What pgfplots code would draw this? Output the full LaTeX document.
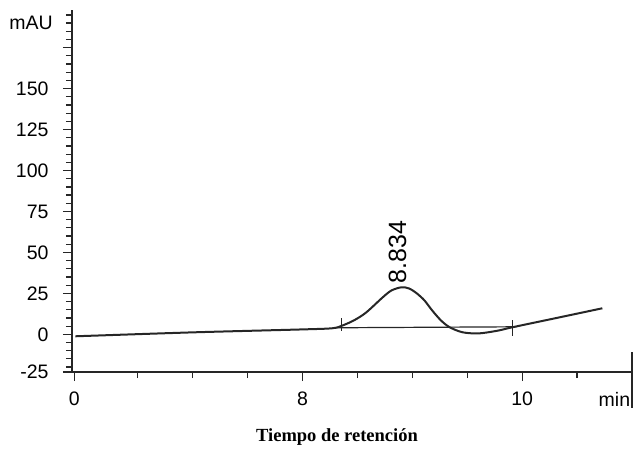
\documentclass[border=0pt]{standalone}
\usepackage{fontspec}
\setmainfont{Liberation Sans}
\newfontfamily\serifbf{Liberation Serif}
\usepackage{pgfplots}
\pgfplotsset{compat=1.18}

\begin{document}
\begin{tikzpicture}
\path[use as bounding box] (0,0) rectangle (640bp,454bp);
\begin{axis}[
  at={(72bp,82bp)}, anchor=south west,
  scale only axis, width=560bp, height=362bp,
  xmin=5.9, xmax=11, ymin=-23, ymax=198,
  axis x line=bottom, axis y line=left,
  axis line style={-, line width=1.5bp, black!85},
  xtick={5.92,8,10}, xticklabels={0,8,10},
  minor xtick={6.5,7,7.5,8.5,9,9.5,10.5},
  ytick={-23,0,25,50,75,100,125,150,175},
  yticklabels={-25,0,25,50,75,100,125,150,{}},
  minor ytick={-20,-15,...,195},
  tick style={line width=1.2bp, black!85},
  major tick length=9bp, minor tick length=6bp,
  tick align=outside,
  ticklabel style={font=\fontsize{19.5bp}{22bp}\selectfont},
  xticklabel style={yshift=-7bp},
  yticklabel style={xshift=-11bp},
  clip=false,
]
% trace
\addplot[line width=2bp, black!85, smooth, tension=0.5] coordinates {
  (5.93,-1.2) (7.0,1.2) (8.0,3.0) (8.27,3.7) (8.36,5.3) (8.47,8.6)
  (8.58,13.4) (8.73,22.6) (8.81,26.8) (8.9,28.7) (8.97,28.0) (9.04,25.0)
  (9.11,20.7) (9.18,14.6) (9.26,8.5) (9.34,4.3) (9.46,1.2) (9.61,0.6)
  (9.79,2.4) (9.91,4.3) (10.3,9.8) (10.73,15.9)
};
% integration baseline and peak marks
\addplot[line width=1.2bp, black!85] coordinates {(8.3,4.0) (9.95,4.6)};
\addplot[line width=1.2bp, black!85] coordinates {(8.355,9.8) (8.355,2.0)};
\addplot[line width=1.2bp, black!85] coordinates {(9.91,8.5) (9.91,-1.2)};
\node[rotate=90, anchor=west, inner sep=0pt, font=\fontsize{25bp}{28bp}\selectfont]
  at (axis cs:8.864,31.2) {8.834};
\node[anchor=east, inner sep=0pt, font=\fontsize{19.5bp}{22bp}\selectfont]
  at (axis cs:5.9,190) [xshift=-19bp] {mAU};
\node[anchor=base east, inner sep=0pt, font=\fontsize{19.5bp}{22bp}\selectfont]
  at (axis cs:10.985,-44.3) {min};
\draw[line width=1.5bp, black!85] (axis cs:11,-10.8) -- (axis cs:11,-44.9);
\end{axis}
\node[font=\serifbf\bfseries\fontsize{18.5bp}{21bp}\selectfont] at (337bp,17bp) {Tiempo de retención};
\end{tikzpicture}
\end{document}
